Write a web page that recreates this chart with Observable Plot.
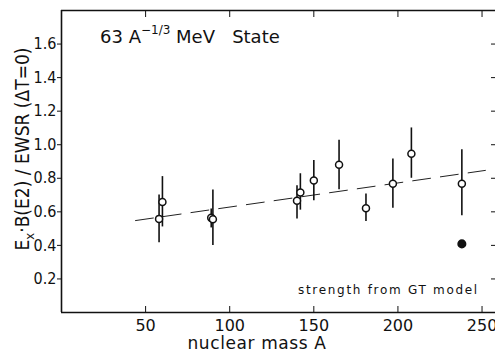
<!DOCTYPE html>
<html><head><meta charset="utf-8">
<script src="https://cdn.jsdelivr.net/npm/d3@7"></script>
<script src="https://cdn.jsdelivr.net/npm/@observablehq/plot@0.6"></script>
<style>
body{margin:0;background:#fff}
svg{font-family:"Liberation Sans Narrow","DejaVu Sans Condensed",sans-serif}
</style></head><body><div id="chart"></div>
<script>
const massA = [58, 60, 89, 90, 140, 142, 150, 165, 181, 197, 208, 238];
const ratio = [0.558, 0.658, 0.564, 0.556, 0.666, 0.715, 0.787, 0.88, 0.622, 0.767, 0.946, 0.767];
const errLo = [0.415, 0.51, 0.504, 0.40, 0.557, 0.61, 0.666, 0.731, 0.542, 0.622, 0.80, 0.576];
const errHi = [0.70, 0.81, 0.617, 0.73, 0.755, 0.827, 0.906, 1.026, 0.707, 0.915, 1.10, 0.97];
const gtA = [238];
const gtRatio = [0.409];
const fitA = [44, 252];
const fitRatio = [0.548, 0.847];
const xTicks = [50, 100, 150, 200, 250];
const yTicks = [0.2, 0.4, 0.6, 0.8, 1.0, 1.2, 1.4, 1.6];
const xMin = 0, yMin = 0, yMax = 1.8;

const pts = massA.map((a, i) => ({A: a, v: ratio[i], lo: errLo[i], hi: errHi[i]}));
const gt = gtA.map((a, i) => ({A: a, v: gtRatio[i]}));
const fit = fitA.map((a, i) => ({A: a, v: fitRatio[i]}));

const plot = Plot.plot({
  width: 495, height: 352,
  marginLeft: 61, marginRight: 0, marginTop: 10, marginBottom: 40,
  x: {domain: [xMin, 258]},
  y: {domain: [yMin, yMax]},
  style: {fontSize: "17px", color: "#111"},
  marks: [
    Plot.ruleX([xMin], {stroke: "#111", strokeWidth: 1.6}),
    Plot.ruleY([yMin], {stroke: "#111", strokeWidth: 1.6}),
    Plot.ruleY([yMax], {stroke: "#111", strokeWidth: 1.6}),
    Plot.axisY({ticks: yTicks, tickSize: 4, tickPadding: 1, tickFormat: d => d.toFixed(1), label: null, fontSize: 16}),
    Plot.axisY({anchor: "right", ticks: yTicks, tickSize: -5, text: null, label: null}),
    Plot.axisX({ticks: xTicks, tickSize: -6, text: null, label: null}),
    Plot.axisX({ticks: xTicks, tickSize: 0, tickPadding: 7, label: null, fontSize: 16, fontFamily: "'DejaVu Sans', sans-serif"}),
    Plot.axisX({anchor: "top", ticks: xTicks, tickSize: -6, text: null, label: null}),
    Plot.line(fit, {x: "A", y: "v", stroke: "#222", strokeWidth: 1, strokeDasharray: "18,10"}),
    Plot.ruleX(pts, {x: "A", y1: "lo", y2: "hi", stroke: "#111", strokeWidth: 1.6}),
    Plot.dot(pts, {x: "A", y: "v", r: 3.5, fill: "white", stroke: "#111", strokeWidth: 1.5}),
    Plot.dot(gt, {x: "A", y: "v", r: 3.8, fill: "#111", stroke: "#111"})
  ]
});
document.getElementById("chart").appendChild(plot);

const svg = d3.select(plot);
// Title
const t = svg.append("text").attr("x", 100).attr("y", 43).attr("text-anchor", "start")
  .style("font-family", "'DejaVu Sans', sans-serif").style("font-size", "18px").attr("fill", "#111");
t.append("tspan").text("63 A");
t.append("tspan").attr("dy", -9).style("font-size", "12px").text("−1/3");
t.append("tspan").attr("dy", 9).text(" MeV\u00a0\u00a0 State");
// GT label
svg.append("text").attr("x", 298).attr("y", 294).attr("text-anchor", "start")
  .style("font-family", "'DejaVu Sans', sans-serif").style("font-size", "12px").style("letter-spacing", "1.7px")
  .attr("fill", "#111").text("strength from GT model");
// x label
svg.append("text").attr("x", 257).attr("y", 349).attr("text-anchor", "middle")
  .style("font-family", "'DejaVu Sans', sans-serif").style("font-size", "17px").style("letter-spacing", "0.6px")
  .attr("fill", "#111").text("nuclear mass A");
// y label
const yl = svg.append("text").attr("transform", "translate(29,149) rotate(-90)").attr("text-anchor", "middle")
  .style("font-family", "'Liberation Sans Narrow','DejaVu Sans Condensed', sans-serif").style("font-size", "19px").attr("fill", "#111");
yl.append("tspan").text("E");
yl.append("tspan").attr("dy", 5).style("font-size", "13px").text("x");
yl.append("tspan").attr("dy", -5).text("·B(E2) / EWSR (ΔT=0)");
</script></body></html>
